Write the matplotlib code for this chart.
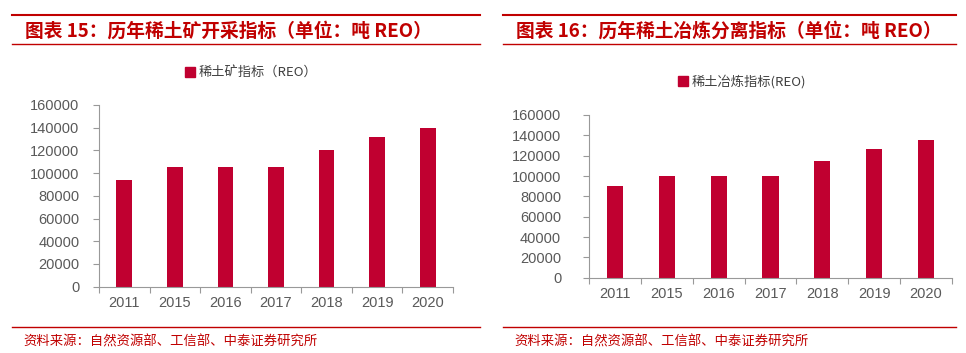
import matplotlib
matplotlib.use("Agg")
import matplotlib.pyplot as plt
from matplotlib.lines import Line2D

plt.rcParams['font.family'] = ['Liberation Sans', 'Noto Sans CJK SC', 'DejaVu Sans']

years = ["2011", "2015", "2016", "2017", "2018", "2019", "2020"]
mining = [93800, 105000, 105000, 105000, 120000, 132000, 140000]
smelting = [90400, 100000, 100000, 100000, 115000, 127000, 135000]
yticks = [0, 20000, 40000, 60000, 80000, 100000, 120000, 140000, 160000]

titles = ["图表 15：历年稀土矿开采指标（单位：吨 REO）",
          "图表 16：历年稀土冶炼分离指标（单位：吨 REO）"]
legend_labels = ["稀土矿指标（REO）", "稀土冶炼指标(REO)"]
source = "资料来源：自然资源部、工信部、中泰证券研究所"

W, H = 966, 353
BAR = "#C00030"
RED = "#C00000"
GRAY = "#595959"

fig = plt.figure(figsize=(W / 100, H / 100), dpi=100)


def fx(px):
    return px / W


def fy(py):
    return 1 - py / H


def add_panel(x0, x1, y_top, y_bot, values, panel, line_x0, line_x1, leg_x, leg_y, ypad, xpad):
    ax = fig.add_axes([fx(x0), fy(y_bot), fx(x1 - x0), (y_bot - y_top) / H])
    pos = range(len(years))
    ax.bar(pos, values, width=0.31, color=BAR, zorder=2)
    ax.set_xlim(-0.5, len(years) - 0.5)
    ax.set_ylim(0, 160000)
    ax.set_yticks(yticks)
    ax.set_yticklabels([str(v) for v in yticks])
    ax.set_xticks(list(pos))
    ax.set_xticklabels(years)
    ax.set_xticks([i - 0.5 for i in range(len(years) + 1)], minor=True)
    for s in ["top", "right"]:
        ax.spines[s].set_visible(False)
    for s in ["left", "bottom"]:
        ax.spines[s].set_color("#999999")
        ax.spines[s].set_linewidth(0.8)
    ax.tick_params(axis="y", colors="#999999", labelcolor=GRAY, labelsize=10.5,
                   length=4, width=0.8, pad=ypad)
    ax.tick_params(axis="x", which="major", length=0, labelcolor=GRAY,
                   labelsize=10.5, pad=xpad)
    ax.tick_params(axis="x", which="minor", length=4, width=0.8, colors="#999999")

    # legend
    handle = Line2D([0], [0], marker="s", color="none", markerfacecolor=BAR,
                    markeredgecolor=BAR, markersize=6.5)
    fig.legend(handles=[handle], labels=[legend_labels[panel]],
               loc="center left", bbox_to_anchor=(fx(leg_x), fy(leg_y)),
               frameon=False, handletextpad=0.1, handlelength=1.0,
               prop={"family": ["Noto Sans CJK SC", "DejaVu Sans"], "size": 9.5},
               labelcolor="#404040")

    # header and footer rules
    for yy in (15, 44, 327):
        fig.add_artist(Line2D([fx(line_x0), fx(line_x1)], [fy(yy), fy(yy)],
                              color=RED, linewidth=1.5 if yy == 15 else 1.0))
    fig.text(fx(line_x0 + 13), fy(31), titles[panel], color=RED, fontsize=13.5,
             fontweight="bold", fontstyle="italic", va="center", ha="left",
             family=["Noto Sans CJK SC", "DejaVu Sans"])
    fig.text(fx(line_x0 + 11), fy(342), source, color=RED, fontsize=9.6,
             va="center", ha="left", family=["Noto Sans CJK SC", "DejaVu Sans"])
    return ax


add_panel(99, 453, 105, 286.7, mining, 0, 12, 480, 172, 73, 10, 7)
add_panel(589, 952, 115, 277.7, smelting, 1, 503, 956, 665, 82, 16, 7)

fig.savefig("out.png", dpi=100)
